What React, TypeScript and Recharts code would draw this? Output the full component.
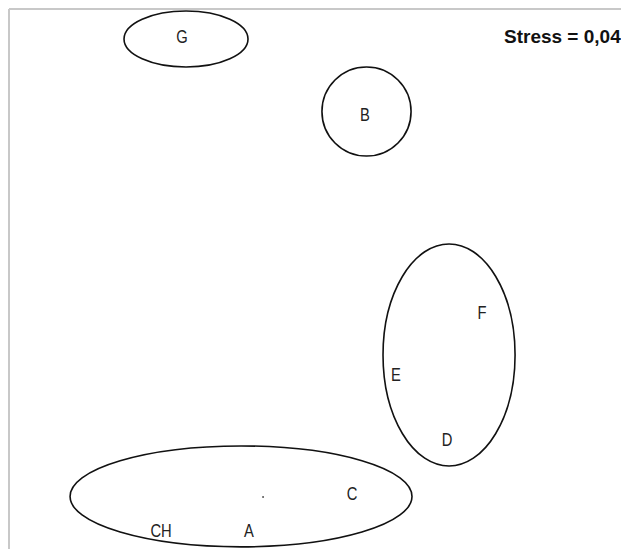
import { ScatterChart, Scatter, XAxis, YAxis, ReferenceArea, Customized } from "recharts";

const labels = ["G", "B", "F", "E", "D", "C", "CH", "A"];
const xValues = [-0.884, 0.297, 1.052, 0.497, 0.826, 0.213, -1.019, -0.452];
const yValues = [1.525, 1.019, -0.264, -0.666, -1.093, -1.443, -1.677, -1.677];

const strayX = [-0.361];
const strayY = [-1.463];

const groupNames = ["G", "B", "DEF", "ACHC"];
const groupX1 = [-1.258, 0.019, 0.413, -1.606];
const groupX2 = [-0.458, 0.594, 1.265, 0.6];
const groupY1 = [1.324, 0.747, -1.262, -1.786];
const groupY2 = [1.687, 1.324, 0.177, -1.132];

const stressText = "Stress = 0,04";

const FONT = "'Liberation Sans', Arial, sans-serif";

const points = labels.map((name, i) => ({ name, x: xValues[i], y: yValues[i] }));
const stray = strayX.map((x, i) => ({ x, y: strayY[i] }));

const LabelShape = (props: any) => (
  <text
    x={props.cx}
    y={props.cy}
    textAnchor="middle"
    dominantBaseline="central"
    fontFamily={FONT}
    fontSize={18}
    fill="#222"
    transform={`translate(${props.cx} 0) scale(0.82 1) translate(${-props.cx} 0)`}
  >
    {props.payload.name}
  </text>
);

const DotShape = (props: any) => <circle cx={props.cx} cy={props.cy} r={1} fill="#555" />;

const EllipseShape = (props: any) => {
  const { x, y, width, height } = props;
  return (
    <ellipse
      cx={x + width / 2}
      cy={y + height / 2}
      rx={Math.abs(width) / 2}
      ry={Math.abs(height) / 2}
      fill="none"
      stroke="#111"
      strokeWidth={1.6}
    />
  );
};

export default function App() {
  return (
    <div style={{ width: 621, height: 541, background: "#fff" }}>
      <ScatterChart width={621} height={541} margin={{ top: 0, right: 0, bottom: 0, left: 0 }}>
        <XAxis
          type="number"
          dataKey="x"
          domain={[-2, 2]}
          orientation="top"
          height={1}
          tick={false}
          tickLine={false}
          axisLine={{ stroke: "#c8c8c8", strokeWidth: 2 }}
        />
        <YAxis
          type="number"
          dataKey="y"
          domain={[-1.8, 1.7]}
          width={1}
          tick={false}
          tickLine={false}
          axisLine={{ stroke: "#c8c8c8", strokeWidth: 2 }}
        />
        {groupNames.map((g, i) => (
          <ReferenceArea
            key={g}
            x1={groupX1[i]}
            x2={groupX2[i]}
            y1={groupY1[i]}
            y2={groupY2[i]}
            ifOverflow="visible"
            shape={<EllipseShape />}
          />
        ))}
        <Scatter data={points} shape={<LabelShape />} isAnimationActive={false} />
        <Scatter data={stray} shape={<DotShape />} isAnimationActive={false} />
        <Customized
          component={() => (
            <text
              x={496}
              y={28}
              textAnchor="start"
              dominantBaseline="central"
              fontFamily={FONT}
              fontWeight="bold"
              fontSize={19}
              fill="#111"
            >
              {stressText}
            </text>
          )}
        />
      </ScatterChart>
    </div>
  );
}
